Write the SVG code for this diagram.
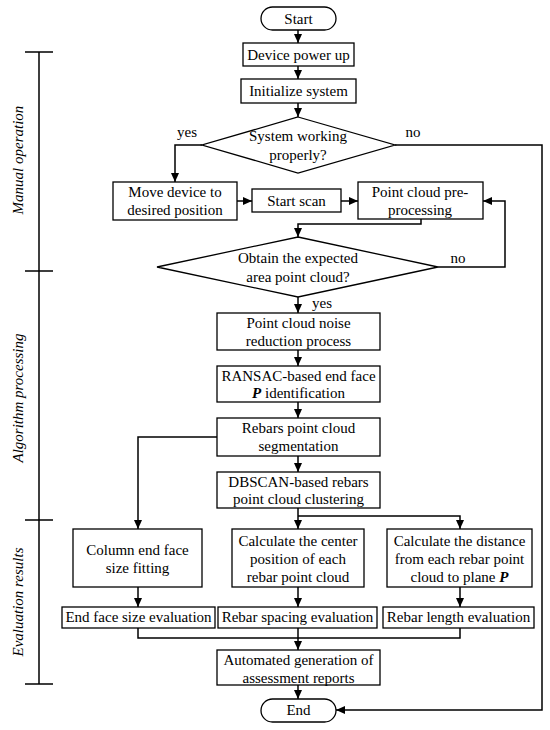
<svg xmlns="http://www.w3.org/2000/svg" width="550" height="730" viewBox="0 0 550 730">
<defs>
<marker id="ah" markerWidth="9" markerHeight="8" refX="9" refY="4" orient="auto" markerUnits="userSpaceOnUse">
<path d="M0,0 L9,4 L0,8 z" fill="#000"/>
</marker>
<style>
.b{fill:#fff;stroke:#000;stroke-width:1.3}
.t{font-family:"Liberation Serif","Times New Roman",serif;font-size:15px;fill:#000;text-anchor:middle}
.s{font-family:"Liberation Serif","Times New Roman",serif;font-size:15px;fill:#000;font-style:italic;text-anchor:middle}
.c{fill:none;stroke:#000;stroke-width:1.5}
.a{marker-end:url(#ah)}
</style>
</defs>
<rect width="550" height="730" fill="#fff"/>
<g id="connectors">
<path class="c a" d="M298,30 V43"/>
<path class="c a" d="M298,66 V79"/>
<path class="c a" d="M298,103 V117"/>
<path class="c a" d="M202,145 H175 V182"/>
<path class="c a" d="M395,145 H542 V710 H336"/>
<path class="c a" d="M237,201 H252"/>
<path class="c a" d="M341,201 H358"/>
<path class="c a" d="M421,219 V224 H298 V237"/>
<path class="c a" d="M438,267 H505 V201 H483"/>
<path class="c a" d="M298,297 V313"/>
<path class="c a" d="M298,350 V366"/>
<path class="c a" d="M298,402 V418"/>
<path class="c a" d="M298,456 V472"/>
<path class="c a" d="M217,437 H138 V529"/>
<path class="c a" d="M298,508 V529"/>
<path class="c a" d="M298,516 H460 V529"/>
<path class="c a" d="M138,587 V607"/>
<path class="c a" d="M298,587 V607"/>
<path class="c a" d="M460,587 V607"/>
<path class="c" d="M138,628 V638 H460 V628"/>
<path class="c a" d="M298,628 V650"/>
<path class="c a" d="M298,685 V699"/>
<text class="t" x="187" y="137">yes</text>
<text class="t" x="413" y="137">no</text>
<text class="t" x="458" y="263">no</text>
<text class="t" x="322" y="308">yes</text>
</g>
<g id="phases">
<path class="c" d="M39,52 V684 M25,52 H53 M25,271 H53 M25,520 H53 M25,684 H53"/>
<text class="s" transform="translate(23,160) rotate(-90)">Manual operation</text>
<text class="s" transform="translate(23,398) rotate(-90)">Algorithm processing</text>
<text class="s" transform="translate(23,602) rotate(-90)">Evaluation results</text>
</g>
<g id="start"><rect class="b" x="261" y="7" width="75" height="23" rx="11.5"/><text class="t" x="298.5" y="23.5">Start</text></g>
<g id="power"><rect class="b" x="243" y="43" width="111" height="23"/><text class="t" x="298.5" y="59.5">Device power up</text></g>
<g id="init"><rect class="b" x="241" y="79" width="115" height="24"/><text class="t" x="298.5" y="96">Initialize system</text></g>
<g id="dec1"><polygon class="b" points="298,117 395,145 298,173 202,145"/><text class="t" x="298" y="141">System working</text><text class="t" x="298" y="160">properly?</text></g>
<g id="move"><rect class="b" x="113" y="182" width="124" height="38"/><text class="t" x="175" y="197">Move device to</text><text class="t" x="175" y="215">desired position</text></g>
<g id="scan"><rect class="b" x="252" y="189" width="89" height="23"/><text class="t" x="296.5" y="205.5">Start scan</text></g>
<g id="pre"><rect class="b" x="358" y="182" width="125" height="37"/><text class="t" x="420" y="197">Point cloud pre-</text><text class="t" x="420" y="215">processing</text></g>
<g id="dec2"><polygon class="b" points="298,237 438,267 298,297 157,267"/><text class="t" x="298" y="263">Obtain the expected</text><text class="t" x="298" y="282">area point cloud?</text></g>
<g id="noise"><rect class="b" x="217" y="313" width="163" height="37"/><text class="t" x="298.5" y="328">Point cloud noise</text><text class="t" x="298.5" y="346">reduction process</text></g>
<g id="ransac"><rect class="b" x="217" y="366" width="163" height="36"/><text class="t" x="298.5" y="381">RANSAC-based end face</text><text class="t" x="298.5" y="398"><tspan font-weight="bold" font-style="italic">P</tspan> identification</text></g>
<g id="seg"><rect class="b" x="217" y="418" width="163" height="38"/><text class="t" x="298.5" y="433">Rebars point cloud</text><text class="t" x="298.5" y="451">segmentation</text></g>
<g id="dbscan"><rect class="b" x="217" y="472" width="163" height="36"/><text class="t" x="298.5" y="487">DBSCAN-based rebars</text><text class="t" x="298.5" y="504">point cloud clustering</text></g>
<g id="column"><rect class="b" x="73" y="529" width="129" height="58"/><text class="t" x="137.5" y="555">Column end face</text><text class="t" x="137.5" y="573">size fitting</text></g>
<g id="center"><rect class="b" x="232" y="529" width="132" height="58"/><text class="t" x="298" y="546">Calculate the center</text><text class="t" x="298" y="564">position of each</text><text class="t" x="298" y="582">rebar point cloud</text></g>
<g id="dist"><rect class="b" x="387" y="529" width="145" height="58"/><text class="t" x="459.5" y="546">Calculate the distance</text><text class="t" x="459.5" y="564">from each rebar point</text><text class="t" x="459.5" y="582">cloud to plane <tspan font-weight="bold" font-style="italic">P</tspan></text></g>
<g id="eval1"><rect class="b" x="62" y="607" width="153" height="21"/><text class="t" x="138.5" y="622">End face size evaluation</text></g>
<g id="eval2"><rect class="b" x="218" y="607" width="159" height="21"/><text class="t" x="297.5" y="622">Rebar spacing evaluation</text></g>
<g id="eval3"><rect class="b" x="383" y="607" width="151" height="21"/><text class="t" x="458.5" y="622">Rebar length evaluation</text></g>
<g id="auto"><rect class="b" x="217" y="650" width="163" height="35"/><text class="t" x="298.5" y="665">Automated generation of</text><text class="t" x="298.5" y="683">assessment reports</text></g>
<g id="end"><rect class="b" x="261" y="699" width="75" height="23" rx="11.5"/><text class="t" x="298.5" y="715">End</text></g>
</svg>
